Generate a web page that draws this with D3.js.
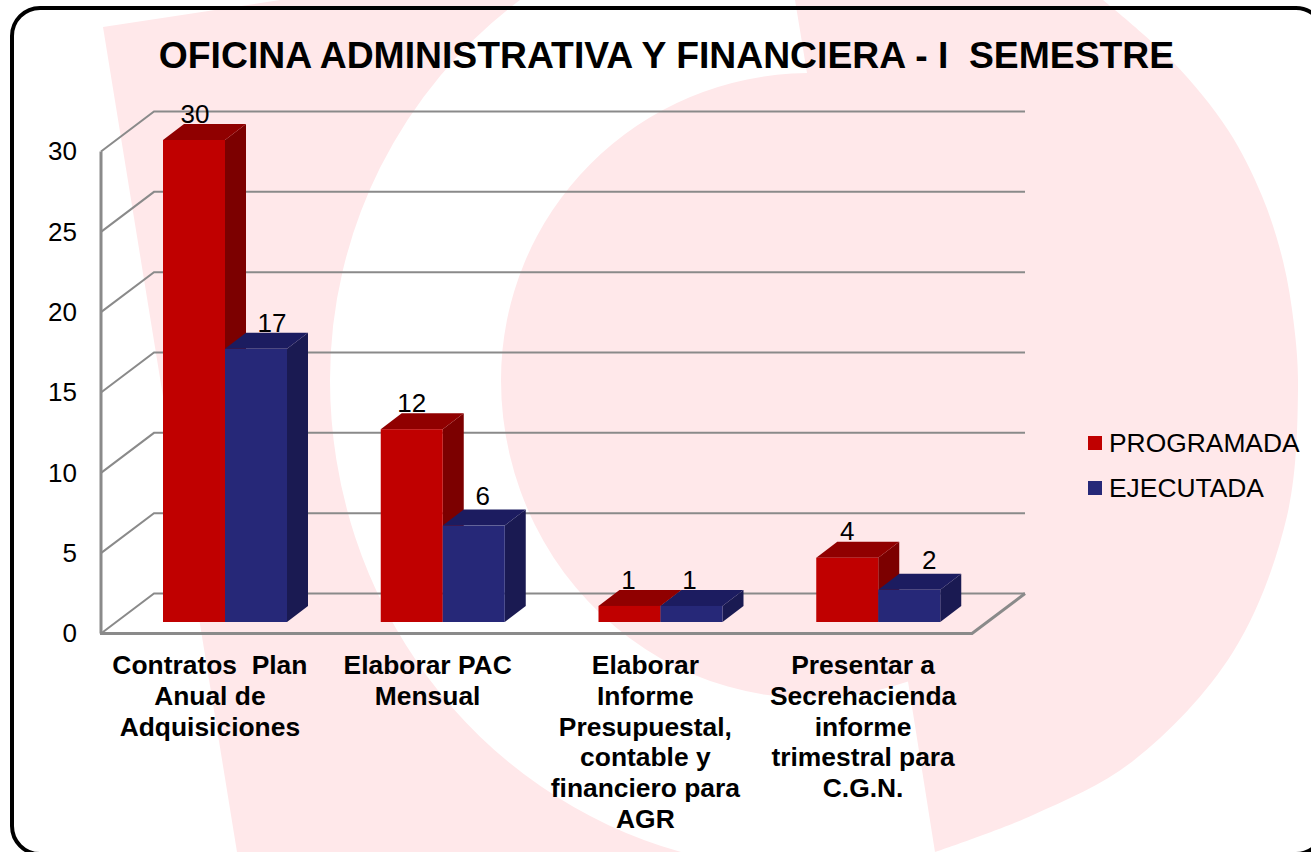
<!DOCTYPE html>
<html>
<head>
<meta charset="utf-8">
<script src="https://cdn.jsdelivr.net/npm/d3@7/dist/d3.min.js"></script>
<style>
html,body{margin:0;padding:0;background:#fff;overflow:hidden}
svg{display:block}
text{font-family:"Liberation Sans",Arial,sans-serif;fill:#000}
</style>
</head>
<body>
<svg id="c" width="1311" height="852"></svg>
<script>
const categories = ["Contratos  Plan|Anual de|Adquisiciones","Elaborar PAC|Mensual","Elaborar|Informe|Presupuestal,|contable y|financiero para|AGR","Presentar a|Secrehacienda|informe|trimestral para|C.G.N."];
const seriesNames = ["PROGRAMADA","EJECUTADA"];
const programada = [30,12,1,4];
const ejecutada = [17,6,1,2];
const tickValues = [0,5,10,15,20,25,30];
const titleText = "OFICINA ADMINISTRATIVA Y FINANCIERA - I  SEMESTRE";

const seriesValues = [programada, ejecutada];
const faceColors = [
  {front:"#C00000", side:"#7C0000", top:"#900000"},
  {front:"#262878", side:"#1A1A52", top:"#1C1C60"}
];

// watermark outline (decorative background)
const outerRight = [[1103,0],[1173,62],[1228,130],[1262,196],[1283,261],[1294,325],[1298,389],[1287,516],[1233,652],[1133,761],[1033,815],[935,852]];

const svg = d3.select("#c");
const pink = "#FFE8EA";
const smooth = d3.line().curve(d3.curveCatmullRom.alpha(0.5));
function pathOf(pts){ return smooth(pts).slice(1); }

// background
svg.append("path").attr("fill",pink).attr("d",
  "M103,27L280,0L1103,0" + "L" + pathOf(outerRight) + "L237,852Z");
svg.append("path").attr("fill","#fff").attr("d",
  "M520,0A475,475 0 0 0 330,380A475,489 0 0 0 681,852L935,852L908,681.6" +
  "A309,318 0 0 1 501,380A309,307 0 0 1 807,73L795,0Z");

// frame
svg.append("rect").attr("x",12).attr("y",8).attr("width",1312).attr("height",846)
  .attr("rx",28).attr("fill","none").attr("stroke","#000").attr("stroke-width",4);

// scales
const y = d3.scaleLinear().domain([0,30]).range([633.5,151.5]);
const x = d3.scaleBand().domain(categories).range([101,972]);
const inner = d3.scaleBand().domain(seriesNames).range([62,186]);
const wall = {dx:53, dy:-40};
const bar = {dx:21, dy:-16, lift:-11.5};
const grey = "#8A8A8A";

// walls and grid
const grid = svg.append("g").attr("fill","none").attr("stroke",grey).attr("stroke-width",2);
tickValues.forEach(t=>{
  grid.append("path").attr("d",`M${x.range()[0]},${y(t)}L${x.range()[0]+wall.dx},${y(t)+wall.dy}L${x.range()[1]+wall.dx},${y(t)+wall.dy}`);
});
grid.append("path").attr("d",`M${x.range()[0]},${y(30)}V${y(0)}`).attr("stroke-width",3);
grid.append("path").attr("d",`M${x.range()[0]-1},${y(0)}H${x.range()[1]}L${x.range()[1]+wall.dx},${y(0)+wall.dy}`).attr("stroke-width",3);

// bars
const nudgeX = [[1,16],[0,9],[-1,-2],[0,20]];
const nudgeY = [[17,17],[17,21],[17,17],[18,21]];
categories.forEach((c,ci)=>{
  seriesNames.forEach((s,si)=>{
    const v = seriesValues[si][ci];
    const x0 = x(c)+inner(s), w = inner.bandwidth();
    const yb = y(0)+bar.lift, yt = y(v)+bar.lift;
    const col = faceColors[si];
    const g = svg.append("g");
    g.append("path").attr("fill",col.side).attr("d",`M${x0+w},${yt}l${bar.dx},${bar.dy}V${yb+bar.dy}L${x0+w},${yb}Z`);
    g.append("path").attr("fill",col.top).attr("d",`M${x0},${yt}l${bar.dx},${bar.dy}h${w}l${-bar.dx},${-bar.dy}Z`);
    g.append("rect").attr("x",x0).attr("y",yt).attr("width",w).attr("height",yb-yt).attr("fill",col.front);
  });
});
// value labels
categories.forEach((c,ci)=>{
  seriesNames.forEach((s,si)=>{
    const v = seriesValues[si][ci];
    svg.append("text").attr("class","val")
      .attr("x",x(c)+inner(s)+inner.bandwidth()/2+nudgeX[ci][si])
      .attr("y",y(v)-11.5-nudgeY[ci][si]).attr("text-anchor","middle")
      .attr("font-size",26).text(v);
  });
});

// y axis labels
const ax = svg.append("g").attr("transform","translate(86,0)")
  .call(d3.axisLeft(y).tickValues(tickValues).tickSize(0).tickPadding(9));
ax.select(".domain").remove();
ax.selectAll("text").style("font-family",'"Liberation Sans",Arial,sans-serif').style("font-size","26px").attr("fill","#000");

// category labels
categories.forEach(c=>{
  const cx = x(c)+x.bandwidth()/2 ;
  c.split("|").forEach((ln,i)=>{
    svg.append("text").style("white-space","pre")
      .attr("x",cx).attr("y",674+i*30.8).attr("text-anchor","middle")
      .attr("font-size",26.4).attr("font-weight","bold").text(ln);
  });
});

// title
svg.append("text").attr("x",666.5).attr("y",68).attr("text-anchor","middle").style("white-space","pre")
  .attr("font-size",37.3).attr("font-weight","bold").text(titleText);

// legend
seriesNames.forEach((s,i)=>{
  svg.append("rect").attr("x",1088).attr("y",436+i*45).attr("width",14).attr("height",14).attr("fill",faceColors[i].front);
  svg.append("text").attr("x",1109).attr("y",452+i*45).attr("font-size",26.4).text(s);
});
</script>
</body>
</html>
